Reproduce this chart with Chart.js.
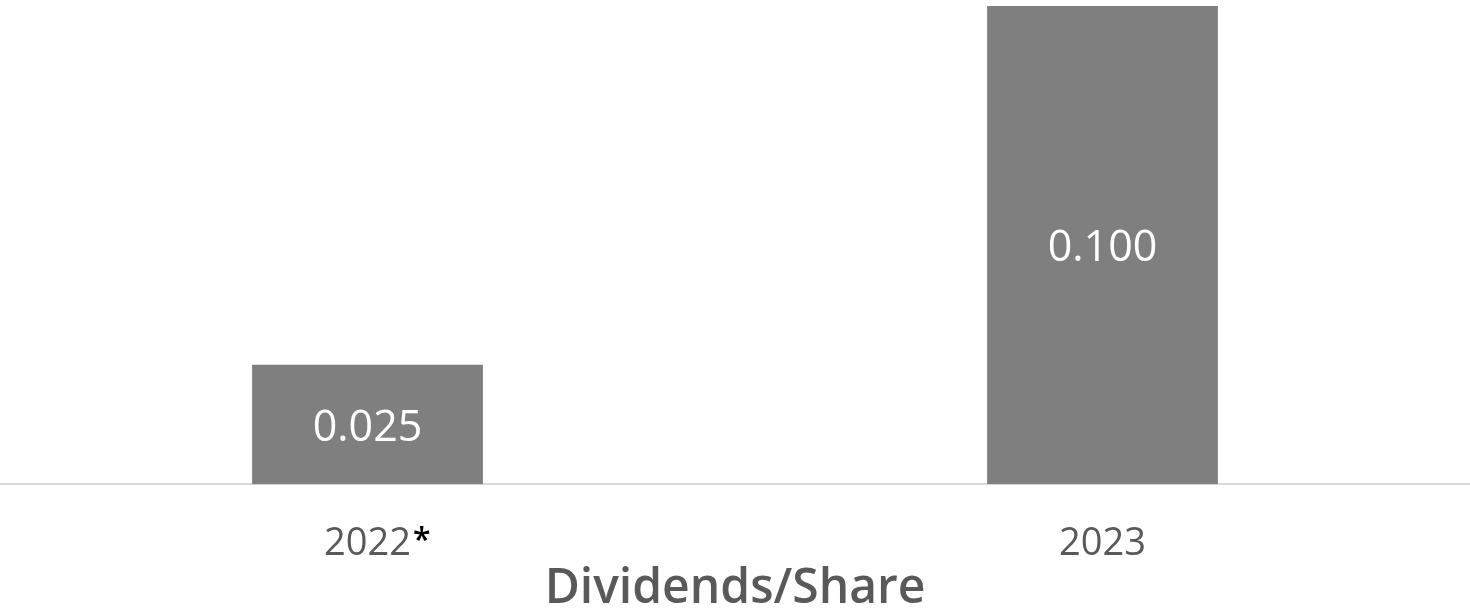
<!DOCTYPE html>
<html>
<head>
<meta charset="utf-8">
<script src="https://cdn.jsdelivr.net/npm/chart.js@4"></script>
<style>
    html, body { margin: 0; padding: 0; background: #ffffff; }
    #wrap { width: 1470px; height: 616px; }
</style>
</head>
<body>
<div id="wrap"><canvas id="myChart"></canvas></div>
<script>
// chart values
const years = ['2022', '2023'];
const footnoteMarks = ['*', ''];
const dividends = [0.025, 0.100];
const valueLabels = ['0.025', '0.100'];
const chartTitle = 'Dividends/Share';

const tickFont = { family: "'Open Sans', sans-serif", size: 38, lineHeight: 1.0 };
const labelFont = "43px 'Open Sans', sans-serif";

// white value labels centred inside the bars
const barLabels = {
    id: 'barLabels',
    afterDatasetsDraw(chart) {
        const ctx = chart.ctx;
        const meta = chart.getDatasetMeta(0);
        ctx.save();
        ctx.font = labelFont;
        ctx.fillStyle = '#ffffff';
        ctx.textAlign = 'center';
        ctx.textBaseline = 'middle';
        meta.data.forEach(function (bar, i) {
            const y = (bar.y + bar.base) / 2;
            ctx.fillText(valueLabels[i], bar.x, y + 4);
        });
        ctx.restore();
    }
};

// black footnote mark after a tick label
const footnotes = {
    id: 'footnotes',
    afterDraw(chart) {
        const ctx = chart.ctx;
        const scale = chart.scales.x;
        ctx.save();
        ctx.font = tickFont.size + "px 'Open Sans', sans-serif";
        const y = scale.top + scale.options.ticks.padding + tickFont.size / 2;
        for (let i = 0; i < years.length; i++) {
            if (!footnoteMarks[i]) continue;
            const x = scale.getPixelForTick(i);
            const w = ctx.measureText(years[i]).width;
            ctx.font = "600 32px 'Open Sans', sans-serif";
            ctx.fillStyle = '#000000';
            ctx.textAlign = 'left';
            ctx.textBaseline = 'middle';
            ctx.fillText(footnoteMarks[i], x + w / 2 + 2, y - 2);
        }
        ctx.restore();
    }
};

const ctx = document.getElementById('myChart');
const myChart = new Chart(ctx, {
    type: 'bar',
    data: {
        labels: years,
        datasets: [{
            label: chartTitle,
            data: dividends,
            backgroundColor: '#7f7f7f',
            borderWidth: 0,
            categoryPercentage: 1.0,
            barPercentage: 0.314
        }]
    },
    options: {
        responsive: true,
        maintainAspectRatio: false,
        animation: false,
        layout: { padding: { top: 6, left: 0, right: 0, bottom: 0 } },
        plugins: {
            legend: { display: false },
            tooltip: { enabled: false },
            title: {
                display: true,
                position: 'bottom',
                text: chartTitle,
                color: '#595959',
                font: { family: "'Open Sans', sans-serif", size: 48, weight: 600, lineHeight: 1.12 },
                padding: { top: 0, bottom: 0 }
            }
        },
        scales: {
            x: {
                grid: { color: 'transparent', drawTicks: false },
                border: { display: true, color: '#d9d9d9', width: 2 },
                ticks: {
                    color: '#595959',
                    font: tickFont,
                    padding: 41
                },
                afterFit: function (scale) {
                    scale.height = 78;
                }
            },
            y: {
                display: false,
                min: 0,
                max: 0.1
            }
        }
    },
    plugins: [barLabels, footnotes]
});
</script>
</body>
</html>
